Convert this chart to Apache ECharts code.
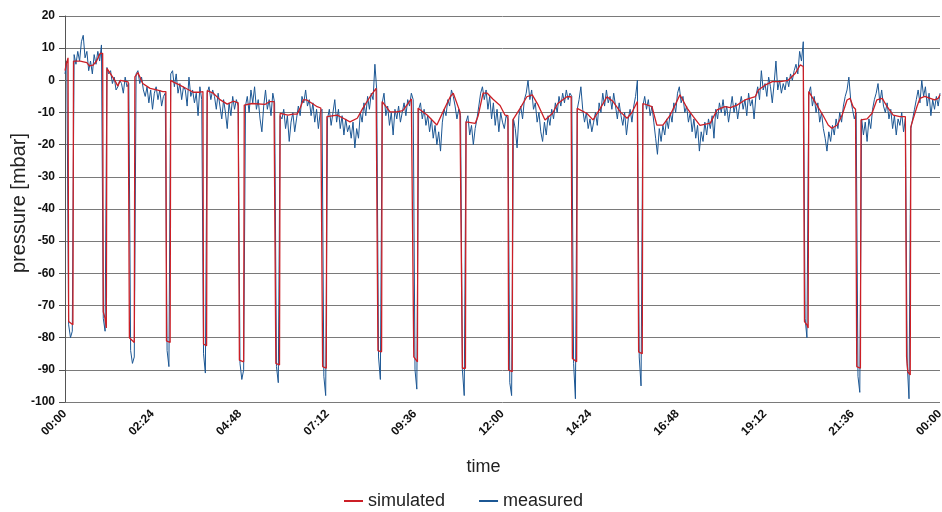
<!DOCTYPE html>
<html>
<head>
<meta charset="utf-8">
<script src="https://cdn.jsdelivr.net/npm/echarts@6/dist/echarts.min.js"></script>
<style>
  html, body { margin: 0; padding: 0; background: #fff; }
  #chart { width: 942px; height: 512px; }
</style>
</head>
<body>
<div id="chart"></div>
<script>
// time in minutes from 00:00, pressure in mbar
var simulated = [
  [0, 3], [2, 5], [5, 7], [6, -75], [13, -76], [14, 6], [25, 6], [36, 5.5], [40, 4.5], [46, 4.7], [52, 6], [58, 8.4],
  [62, 8.4], [63, -72], [66, -74], [68, -77], [69, 3.7], [82, 0], [87, -1.8], [91, 0], [104, -0.5],
  [105, -0.5], [106, -80], [114, -81.5], [115, 1.1], [120, 2.4], [128, -1], [140, -2.5], [151, -3], [161, -3.5],
  [166, -3.5], [167, -81], [173, -81.5], [174, 0], [178, -0.5], [189, -1.5], [201, -2.7], [211, -3.7], [222, -3.7],
  [227, -3.5], [228, -82], [233, -82.5], [234, -3.2], [244, -4], [255, -6], [267, -7.4], [277, -6.5], [285, -7],
  [286, -7], [287, -87], [294, -87.5], [295, -7.7], [308, -7.2], [329, -7.5], [337, -6.6], [344, -6.6],
  [346, -6.6], [347, -88], [353, -88.5], [354, -10.3], [367, -10.8], [375, -10.5], [382, -10.5], [387, -8.6],
  [392, -6.1], [398, -6.1], [407, -7.2], [415, -8.2], [421, -8.6],
  [423, -8.6], [424, -89], [430, -89.5], [431, -11.3], [448, -10.8], [458, -11.8], [469, -12.9], [481, -11.8],
  [490, -8.7], [502, -5.1], [512, -2.5],
  [514, -2.5], [515, -84], [521, -84.4], [522, -6.6], [535, -9.8], [546, -9.8], [556, -9.4], [570, -5.8],
  [573, -5.8], [574, -86], [580, -87.5], [581, -8.7], [596, -10.8], [612, -13.9], [622, -9.8], [634, -5.1],
  [639, -4], [650, -9.8],
  [653, -9.8], [654, -89.5], [659, -89.5], [660, -12.9], [675, -13.4], [680, -11], [688, -4], [695, -4],
  [704, -5.8], [716, -7.8], [724, -10.8],
  [729, -11], [730, -90], [736, -90.6], [737, -12.3], [749, -8.7], [760, -5.1], [769, -4.5], [779, -7.8],
  [790, -12.3], [802, -10.3], [811, -7.2], [826, -5.1], [833, -5.1],
  [834, -5.1], [835, -86.5], [842, -87.5], [843, -8.7], [859, -10.3], [869, -12.3], [881, -8.7], [892, -5.1],
  [902, -6.6], [914, -9.8], [925, -11.8], [933, -10], [942, -6.6],
  [943, -6.6], [944, -84.4], [950, -85], [951, -7.2], [966, -8.2], [974, -13.9], [984, -13.9], [996, -10.8],
  [1004, -7.7], [1012, -4.5], [1024, -8.7], [1034, -11.3], [1045, -14], [1062, -13.3], [1073, -9.2],
  [1086, -8.2], [1095, -8.5], [1106, -7.7], [1119, -6.1], [1136, -5.1], [1141, -3], [1152, -1.5],
  [1164, -0.4], [1177, -0.4], [1190, 0], [1202, 2.2], [1210, 4.8], [1215, 4.3],
  [1216, 4.3], [1217, -75], [1221, -76], [1223, -77], [1224, -3.5], [1234, -6.6], [1246, -10.4], [1256, -13.9],
  [1262, -14.9], [1271, -13.9], [1279, -10.8], [1287, -6.1], [1292, -5.6], [1297, -8.2], [1301, -9],
  [1302, -9], [1303, -89], [1309, -89.5], [1310, -12.3], [1320, -12], [1328, -10.3], [1336, -6.1],
  [1345, -5.6], [1353, -8.2], [1363, -10.8], [1374, -11.3], [1383, -11.3],
  [1384, -11.3], [1385, -86], [1387, -90.6], [1391, -91.6], [1392, -14.4], [1402, -8.2], [1407, -5.6],
  [1415, -5], [1424, -5.6], [1431, -6.1], [1437, -5.6], [1440, -4.5]
];

// measured: one reading every 3 minutes, starting at 00:00
var measuredStep = 3;
var measured = [
  2, 6,
  -76, -80, -78,
  8, 5, 9, 6, 12, 14, 7, 9, 3, 6, 2, 8, 5, 9, 6, 11,
  -74, -78,
  4, 2, 3, -1, 1, -3, -2, 0, -1, -4, 1, -2,
  -1, -84, -88, -86,
  2, 3, -1, 1, -3, -5, -2, -7, -3, -9, -4, -2, -6, -3, -8, -5, -4,
  -84, -89, 2,
  3, -2, 2, -4, -1, -6, -2, -3, -8, 1, -5, -3, -7, -4, -11, -2, -6,
  -85, -91, -4,
  -2, -6, -3, -5, -9, -4, -8, -12, -6, -10, -15, -7, -11, -5, -9, -6, -8,
  -88, -93, -90,
  -8, -5, -10, -3, -7, -2, -9, -6, -12, -16, -8, -3, -9, -6, -11, -4, -7,
  -89, -94, -11,
  -12, -9, -15, -11, -19, -13, -10, -16, -12, -8, -11, -5, -7, -3, -8, -6, -11, -7, -13, -9, -15, -10,
  -9, -92, -98,
  -12, -9, -14, -10, -6, -13, -9, -15, -11, -17, -12, -16, -14, -18, -13, -21, -15, -18, -10, -13, -7, -11,
  -5, -9, -4, -6, 5, -3,
  -86, -93, -7,
  -4, -11, -8, -14, -10, -17, -9, -12, -8, -13, -10, -7, -11, -6, -8, -4,
  -6, -90, -96, -9,
  -7, -12, -9, -14, -11, -16, -12, -18, -14, -20, -16, -22, -13, -9, -11, -6, -8, -3, -5, -8, -12, -9, -11,
  -90, -98, -13,
  -11, -17, -14, -20, -15, -12, -8, -4, -2, -6, -3, -9, -5, -12, -7, -14, -9, -16, -10, -13, -15, -11,
  -12, -94, -98, -12,
  -15, -21, -11, -8, -12, -6, -4, 0, -6, -3, -9, -7, -13, -10, -16, -19, -13, -17, -11, -14, -9, -12,
  -7, -10, -5, -8, -4, -7, -3, -6, -4,
  -5, -88, -99, -9,
  -6, -2, -9, -13, -10, -15, -12, -16, -13, -10, -14, -7, -10, -4, -8, -3, -7, -5, -9, -4, -8, -12,
  -7, -11, -14, -10, -17, -12, -9, -13, -8, -5, 0,
  -86, -95, -8,
  -5, -9, -6, -11, -8, -13, -18, -23, -15, -19,
  -14, -17, -12, -15, -10, -13, -7, -10, -4, -2,
  -7, -5, -10, -8, -13, -10, -16, -12, -18, -14,
  -22, -16, -19, -13, -17, -12, -15, -11, -18, -9,
  -12, -7, -10, -6, -11, -8, -13, -9, -5, -10,
  -7, -12, -8, -5, -9, -6, -11, -4, -8, -6,
  -12, -5, -2, -6, 3, -3, -1, -5, 1, -2,
  -7, -1, 6, -3, 0, -4, -1, -3, 1, -2,
  2, 0, 3, 5, 2, 9, 6, 12,
  -74, -80, -4,
  -2, -8, -5, -10, -7, -13, -10, -15, -18, -22, -16, -19, -14, -17, -12, -15, -10, -13, -8, -5, -3, 1,
  -6, -9, -12,
  -10, -92, -97, -12,
  -17, -13, -19, -12, -15, -9, -6, -4, -1, -7, -3, -8, -10, -7, -12, -9, -15, -11, -17, -12, -14, -10,
  -16, -12,
  -88, -99, -15,
  -12, -9, -6, -3, -7, 0, -5, -2, -8, -4, -11, -6, -9, -5, -8, -4
];

var yTicks = { min: -100, max: 20, step: 10 };
var xTicks = { min: 0, max: 1440, step: 144 };

function minutesToLabel(m) {
  var mm = Math.round(m) % 1440;
  var h = Math.floor(mm / 60), n = mm % 60;
  return (h < 10 ? '0' : '') + h + ':' + (n < 10 ? '0' : '') + n;
}

var measuredData = measured.map(function (v, i) { return [i * measuredStep, v]; });

var tickFont = '"Liberation Sans Narrow", "Arial Narrow", "Liberation Sans", sans-serif';

var myChart = echarts.init(document.getElementById('chart'));

myChart.setOption({
  animation: false,
  backgroundColor: '#ffffff',
  textStyle: { fontFamily: '"Liberation Sans", Arial, sans-serif' },
  grid: { left: 65, right: 2, top: 16, bottom: 110, containLabel: false, outerBoundsMode: 'none' },
  legend: {
    data: ['simulated', 'measured'],
    top: 487,
    left: 339,
    icon: 'rect',
    itemWidth: 19,
    itemHeight: 2,
    itemGap: 34,
    textStyle: { fontSize: 18, color: '#222' }
  },
  xAxis: {
    type: 'value',
    min: xTicks.min,
    max: xTicks.max,
    interval: xTicks.step,
    name: 'time',
    nameLocation: 'middle',
    nameGap: 56,
    nameMoveOverlap: false,
    nameTextStyle: { fontSize: 18, color: '#222', padding: [0, 38, 0, 0] },
    axisLine: { lineStyle: { color: '#777' } },
    axisTick: { show: false },
    splitLine: { show: false },
    axisLabel: {
      rotate: 45,
      fontSize: 12,
      fontWeight: 'bold',
      fontFamily: tickFont,
      color: '#111',
      margin: 10,
      formatter: minutesToLabel
    }
  },
  yAxis: {
    type: 'value',
    min: yTicks.min,
    max: yTicks.max,
    interval: yTicks.step,
    name: 'pressure [mbar]',
    nameLocation: 'middle',
    nameGap: 36,
    nameMoveOverlap: false,
    nameTextStyle: { fontSize: 20, color: '#222', padding: [0, 0, 0, 12] },
    axisLine: { show: true, lineStyle: { color: '#555' } },
    axisTick: { show: true, length: 6, lineStyle: { color: '#555' } },
    axisLabel: { fontSize: 12, fontWeight: 'bold', fontFamily: tickFont, color: '#111', margin: 10 },
    splitLine: { show: true, lineStyle: { color: '#7a7a7a', width: 1 } }
  },
  series: [
    {
      name: 'measured',
      type: 'line',
      data: measuredData,
      showSymbol: false,
      symbol: 'none',
      color: '#1c5794',
      lineStyle: { color: '#1c5794', width: 1 },
      z: 2
    },
    {
      name: 'simulated',
      type: 'line',
      data: simulated,
      showSymbol: false,
      symbol: 'none',
      color: '#cc1f26',
      lineStyle: { color: '#cc1f26', width: 1.3 },
      z: 3
    }
  ]
});
</script>
</body>
</html>
